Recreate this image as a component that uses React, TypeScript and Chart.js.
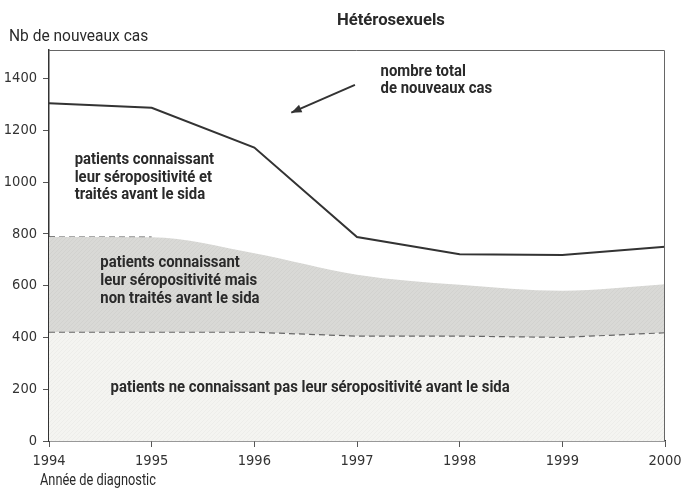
import React, { useEffect, useRef } from 'react';
import { Chart, registerables } from 'chart.js';

Chart.register(...registerables);

// ---- data ----
const years = ['1994', '1995', '1996', '1997', '1998', '1999', '2000'];
const totalCases = [1304, 1287, 1133, 788, 721, 718, 750];
const knownTop = [788, 787, 725, 642, 603, 580, 605];
const unknownTop = [420, 420, 420, 405, 405, 400, 418];
const yTicks = [0, 200, 400, 600, 800, 1000, 1200, 1400];
const yMax = 1510;

const titleText = 'Hétérosexuels';
const yAxisTitle = 'Nb de nouveaux cas';
const xAxisTitle = 'Année de diagnostic';
const noteTotal = ['nombre total', 'de nouveaux cas'];
const noteTreated = ['patients connaissant', 'leur séropositivité et', 'traités avant le sida'];
const noteUntreated = ['patients connaissant', 'leur séropositivité mais', 'non traités avant le sida'];
const noteUnknown = ['patients ne connaissant pas leur séropositivité avant le sida'];

const TICK_FAMILY = '"DejaVu Sans Condensed", sans-serif';
const TEXT_FAMILY = 'Roboto, "DejaVu Sans", sans-serif';

function makePattern(base: string, line: string) {
  const c = document.createElement('canvas');
  c.width = 4;
  c.height = 4;
  const g = c.getContext('2d')!;
  g.fillStyle = base;
  g.fillRect(0, 0, 4, 4);
  g.strokeStyle = line;
  g.lineWidth = 0.8;
  g.beginPath();
  g.moveTo(0, 4);
  g.lineTo(4, 0);
  g.stroke();
  const ctx = document.createElement('canvas').getContext('2d')!;
  return ctx.createPattern(c, 'repeat') as CanvasPattern;
}

function condensed(ctx: CanvasRenderingContext2D, text: string, x: number, y: number, sx: number) {
  ctx.save();
  ctx.translate(x, y);
  ctx.scale(sx, 1);
  ctx.fillText(text, 0, 0);
  ctx.restore();
}

const overlay = {
  id: 'overlay',
  afterDraw(chart: any) {
    const { ctx, chartArea: a, scales } = chart;
    const xs = scales.x;
    const ys = scales.y;
    const px = (v: number) => xs.getPixelForValue(v);
    const py = (v: number) => ys.getPixelForValue(v);
    ctx.save();
    // frame (top and right)
    ctx.strokeStyle = '#666';
    ctx.lineWidth = 1;
    ctx.beginPath();
    ctx.moveTo(a.left, a.top + 0.5);
    ctx.lineTo(a.right - 0.5, a.top + 0.5);
    ctx.lineTo(a.right - 0.5, a.bottom);
    ctx.stroke();

    ctx.fillStyle = '#2a2a2a';
    ctx.textBaseline = 'middle';
    ctx.textAlign = 'left';
    // axis titles
    ctx.font = '16px ' + TEXT_FAMILY;
    condensed(ctx, yAxisTitle, 9, 37, 0.97);
    condensed(ctx, xAxisTitle, 40, 481, 0.8);
    // title
    ctx.font = 'bold 17px ' + TEXT_FAMILY;
    ctx.textAlign = 'center';
    condensed(ctx, titleText, a.left + a.width * 0.555, 21, 0.98);

    // notes (anchored in data coordinates: category index, value)
    ctx.textAlign = 'left';
    ctx.font = 'bold 16px ' + TEXT_FAMILY;
    const block = (lines: string[], xi: number, yv: number, lh: number) => {
      const x0 = px(xi);
      const y0 = py(yv);
      lines.forEach((l, i) => condensed(ctx, l, x0, y0 + i * lh, 0.93));
    };
    block(noteTotal, 3.23, 1425, 17);
    block(noteTreated, 0.25, 1085, 17.5);
    block(noteUntreated, 0.5, 688, 18);
    block(noteUnknown, 0.6, 203, 18);

    // arrow
    const x1 = px(2.98), y1 = py(1375);
    const x2 = px(2.36), y2 = py(1268);
    ctx.strokeStyle = '#333';
    ctx.lineWidth = 2;
    ctx.beginPath();
    ctx.moveTo(x1, y1);
    ctx.lineTo(x2, y2);
    ctx.stroke();
    const ang = Math.atan2(y2 - y1, x2 - x1);
    const L = 11;
    ctx.fillStyle = '#333';
    ctx.beginPath();
    ctx.moveTo(x2, y2);
    ctx.lineTo(x2 - L * Math.cos(ang - 0.38), y2 - L * Math.sin(ang - 0.38));
    ctx.lineTo(x2 - L * Math.cos(ang + 0.38), y2 - L * Math.sin(ang + 0.38));
    ctx.closePath();
    ctx.fill();
    ctx.restore();
  },
};

export default function App() {
  const ref = useRef<HTMLCanvasElement>(null);
  useEffect(() => {
    if (!ref.current) return;
    const lightFill = makePattern('#f4f4f1', '#ebebe8');
    const grayFill = makePattern('#d9d9d6', '#d0d0cd');
    const chart = new Chart(ref.current, {
      type: 'line',
      data: {
        labels: years,
        datasets: [
          {
            data: unknownTop,
            fill: 'origin',
            backgroundColor: lightFill,
            borderColor: '#666',
            borderWidth: 1.2,
            borderDash: [6, 4],
            pointRadius: 0,
            tension: 0,
          },
          {
            data: knownTop,
            fill: '-1',
            backgroundColor: grayFill,
            borderWidth: 0,
            borderColor: 'rgba(0,0,0,0)',
            cubicInterpolationMode: 'monotone',
            pointRadius: 0,
          },
          {
            data: knownTop.map((v, i) => (i <= 1 ? v : null)),
            fill: false,
            borderWidth: 1.2,
            borderDash: [6, 4],
            borderColor: '#555',
            pointRadius: 0,
            spanGaps: false,
          },
          {
            data: totalCases,
            fill: false,
            borderColor: '#333',
            borderWidth: 2,
            pointRadius: 0,
            tension: 0,
          },
        ],
      } as any,
      options: {
        animation: false,
        responsive: false,
        layout: { padding: { top: 50, right: 18, left: 0, bottom: 0 } },
        plugins: { legend: { display: false }, tooltip: { enabled: false }, title: { display: false } },
        scales: {
          x: {
            type: 'category',
            offset: false,
            grid: { drawOnChartArea: false, drawTicks: true, tickLength: 6, color: '#555', offset: false },
            border: { display: true, color: '#333', width: 1.5 },
            ticks: { color: '#333', font: { family: TICK_FAMILY, size: 14.5 }, padding: 6, maxRotation: 0, autoSkip: false },
            afterFit: (s: any) => { s.height = 49; s.paddingRight = 0; s.paddingLeft = 0; },
          },
          y: {
            type: 'linear',
            min: 0,
            max: yMax,
            afterBuildTicks: (s: any) => { s.ticks = yTicks.map((v) => ({ value: v })); },
            grid: { drawOnChartArea: false, drawTicks: true, tickLength: 6, color: '#555' },
            border: { display: true, color: '#333', width: 1.5 },
            ticks: { color: '#333', font: { family: TICK_FAMILY, size: 14.5 }, padding: 6, callback: (v: any) => String(v) },
            afterFit: (s: any) => { s.width = 49; s.paddingTop = 0; s.paddingBottom = 0; },
          },
        },
      } as any,
      plugins: [overlay],
    });
    return () => chart.destroy();
  }, []);
  return (
    <div style={{ position: 'absolute', left: 0, top: 0, width: 683, height: 490, background: '#fff' }}>
      <canvas ref={ref} width={683} height={490} style={{ display: 'block' }} />
    </div>
  );
}
